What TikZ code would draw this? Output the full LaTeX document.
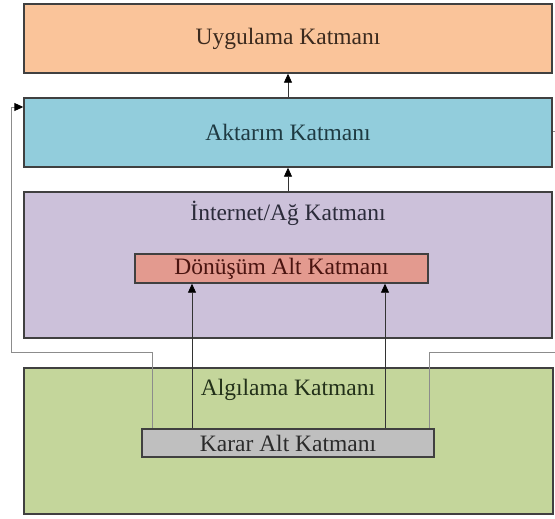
\documentclass[tikz,border=0pt]{standalone}
\usepackage{fontspec}
\setmainfont{Liberation Serif}
\usetikzlibrary{arrows.meta,calc}
\definecolor{cUyg}{HTML}{FAC49A}
\definecolor{cAkt}{HTML}{92CDDC}
\definecolor{cInt}{HTML}{CCC1DA}
\definecolor{cDon}{HTML}{E39A8F}
\definecolor{cAlg}{HTML}{C4D69B}
\definecolor{cKar}{HTML}{BFBFBF}
\definecolor{boxline}{HTML}{404040}
\definecolor{fbline}{HTML}{8C8C8C}
\definecolor{arrline}{HTML}{333333}
\definecolor{tUyg}{HTML}{3B2A1E}
\definecolor{tAkt}{HTML}{1E3A42}
\definecolor{tInt}{HTML}{2B2B3A}
\definecolor{tDon}{HTML}{4A1410}
\definecolor{tAlg}{HTML}{223019}
\definecolor{tKar}{HTML}{2A2A2A}
\begin{document}
\begin{tikzpicture}[x=1pt,y=-1pt,
  box/.style={draw=boxline, line width=1.4pt, inner sep=0pt, rectangle,
    font=\fontsize{23.5}{28}\selectfont},
  lbl/.style={inner sep=0pt, font=\fontsize{23.5}{28}\selectfont},
  tip/.style={-{Triangle[length=9pt,width=8pt,color=black]}},
  arr/.style={draw=arrline, line width=0.8pt, tip},
  fb/.style={draw=fbline, line width=0.9pt}]
\useasboundingbox (0,0) rectangle (555,519);
\clip (0,0) rectangle (555,519);
\fill[white] (0,0) rectangle (555,519);
% boxes
\node[box, fill=cUyg, text=tUyg, minimum width=528pt, minimum height=69pt] (uyg) at (288,38.5) {Uygulama Katmanı};
\node[box, fill=cAkt, text=tAkt, minimum width=528pt, minimum height=69pt] (akt) at (288,132.5) {Aktarım Katmanı};
\node[box, fill=cInt, minimum width=528pt, minimum height=146pt] (int) at (288,265) {};
\node[lbl, text=tInt] (intt) at (288,213) {İnternet/Ağ Katmanı};
\node[box, fill=cDon, text=tDon, minimum width=293pt, minimum height=29pt] (don) at (281.5,268.5) {Dönüşüm Alt Katmanı};
\node[box, fill=cAlg, minimum width=529pt, minimum height=146pt] (alg) at (288.5,441) {};
\node[lbl, text=tAlg] (algt) at (288,390) {Algılama Katmanı};
% coordinates for connectors
\coordinate (k1) at (192,429);
\coordinate (k2) at (385,429);
\coordinate (f1) at (152,429);
\coordinate (f2) at (429,429);
\coordinate (lc) at (11,352);
\coordinate (rc) at (562,352);
% feedback lines
\draw[fb, tip] (f1) |- (lc) |- ([yshift=25.5pt]akt.west);
\draw[fb] (f2) |- (rc) |- ([yshift=1.5pt]akt.east);
% vertical arrows
\draw[arr] (k1) -- (k1 |- don.south);
\draw[arr] (k2) -- (k2 |- don.south);
\draw[arr] (akt.north) -- (uyg.south);
\draw[arr] (int.north) -- (akt.south);
\node[box, fill=cKar, text=tKar, minimum width=292pt, minimum height=28pt] (kar) at (288,443) {Karar Alt Katmanı};
\end{tikzpicture}
\end{document}
